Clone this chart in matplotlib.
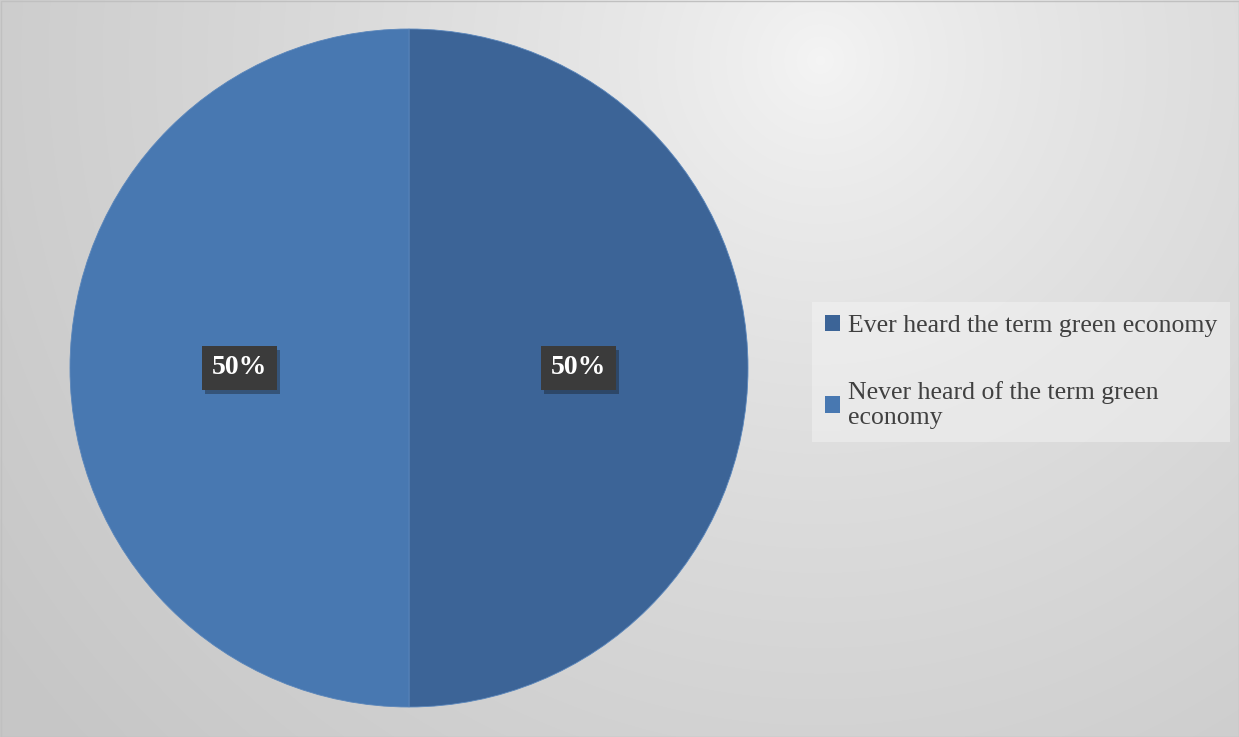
import matplotlib
matplotlib.use("Agg")
import matplotlib.pyplot as plt
import matplotlib.patheffects as pe
import numpy as np

# Data
labels = ["Ever heard the term green economy", "Never heard of the term green\neconomy"]
shares = [50, 50]
colors = ["#3c6497", "#4878b1"]

W, H = 1239, 737
fig = plt.figure(figsize=(W / 100, H / 100), dpi=100)

# Background radial gradient
bg = fig.add_axes([0, 0, 1, 1])
yy, xx = np.mgrid[0:H, 0:W]
d = np.sqrt((xx - 820) ** 2 + (yy - 60) ** 2) / 1000.0
d = np.clip(d, 0, 1)
light = np.array([0.96, 0.96, 0.96])
dark = np.array([0.78, 0.78, 0.78])
img = light + (dark - light) * d[..., None] ** 0.75
bg.imshow(img, extent=[0, W, H, 0], aspect="auto")
bg.set_xlim(0, W)
bg.set_ylim(H, 0)
bg.axis("off")
bg.add_patch(plt.Rectangle((0.5, 0.5), W - 1, H - 1, fill=False, ec="#c0c0c0", lw=1))

# Pie axes: center (409, 368), radius 339 px
cx, cy, r = 409, 368, 339
ax = fig.add_axes([(cx - r) / W, (H - cy - r) / H, 2 * r / W, 2 * r / H])
wedges, texts, autotexts = ax.pie(
    shares, colors=colors, startangle=90, counterclock=False,
    autopct="%1.0f%%", pctdistance=0.5,
    wedgeprops=dict(edgecolor="#5a86bb", linewidth=0.6),
    textprops=dict(color="white", fontsize=20, fontweight="bold", family="Liberation Serif"),
)
for t in autotexts:
    t.set_bbox(dict(boxstyle="square,pad=0.35", facecolor="#3b3b3b", edgecolor="none"))
    t.get_bbox_patch().set_path_effects(
        [pe.SimplePatchShadow(offset=(2, -3), alpha=0.35), pe.Normal()])
ax.set_xlim(-1, 1)
ax.set_ylim(-1, 1)
ax.set_aspect("auto")
ax.axis("off")

# Legend
leg = fig.legend(
    wedges, labels, loc="upper left", bbox_to_anchor=(812 / W, 1 - 302 / H),
    borderaxespad=0,
    frameon=True, fancybox=False, framealpha=0.45, facecolor="#f6f6f6", edgecolor="none",
    prop=dict(family="Liberation Serif", size=18.5), labelcolor="#404040",
    handlelength=0.6, handleheight=0.6, handletextpad=0.3, labelspacing=1.7,
    borderpad=0.5,
)
for h in leg.legend_handles:
    h.set_edgecolor("none")
for t in leg.get_texts():
    t.set_linespacing(1.2)

fig.savefig("out.png", dpi=100)
